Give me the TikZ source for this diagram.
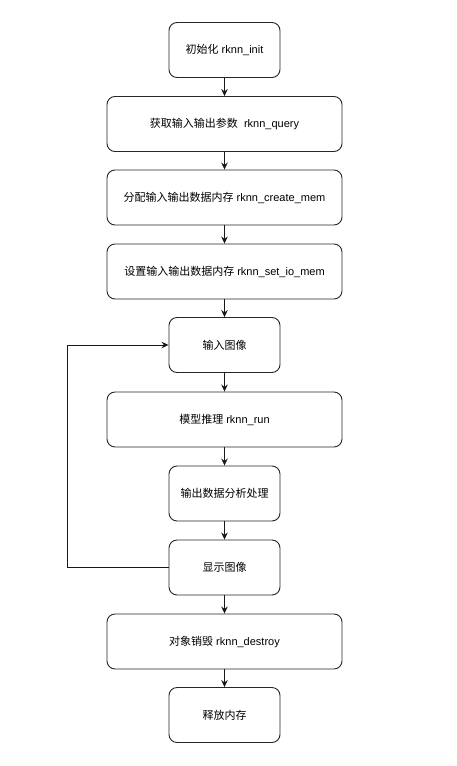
\documentclass[tikz,border=0pt]{standalone}
\usepackage{fontspec}
\setmainfont{Liberation Sans}
\newfontfamily\cjk{Noto Sans CJK SC}
\usetikzlibrary{arrows.meta}
\begin{document}
\begin{tikzpicture}[x=1pt,y=-1pt,
  box/.style={draw=black!85, line width=0.9pt, rounded corners=8pt, minimum height=55pt, align=center, inner sep=0pt, font=\fontsize{11}{13}\selectfont},
  sbox/.style={box, minimum width=111pt},
  wbox/.style={box, minimum width=235pt},
  arr/.style={draw=black!90, line width=0.9pt, -{Stealth[length=7pt,width=6.5pt]}}]
\useasboundingbox (0,0) rectangle (457,766);
\node[sbox] (n1) at (224.5,50) {{\cjk 初始化} rknn\_init};
\node[wbox] (n2) at (224.5,124) {{\cjk 获取输入输出参数}\ \ rknn\_query};
\node[wbox] (n3) at (224.5,197.5) {{\cjk 分配输入输出数据内存} rknn\_create\_mem};
\node[wbox] (n4) at (224.5,271.5) {{\cjk 设置输入输出数据内存} rknn\_set\_io\_mem};
\node[sbox] (n5) at (224.5,345) {{\cjk 输入图像}};
\node[wbox] (n6) at (224.5,419.5) {{\cjk 模型推理} rknn\_run};
\node[sbox] (n7) at (224.5,493.5) {{\cjk 输出数据分析处理}};
\node[sbox] (n8) at (224.5,567.5) {{\cjk 显示图像}};
\node[wbox] (n9) at (224.5,641.5) {{\cjk 对象销毁} rknn\_destroy};
\node[sbox] (n10) at (224.5,715) {{\cjk 释放内存}};
\coordinate (lp) at (67.5,0);
\foreach \a/\b in {n1/n2,n2/n3,n3/n4,n4/n5,n5/n6,n6/n7,n7/n8,n8/n9,n9/n10}
  \draw[arr] (\a) -- (\b);
\draw[arr] (n8.west) -- (n8.west -| lp) |- (n5.west);
\end{tikzpicture}
\end{document}
